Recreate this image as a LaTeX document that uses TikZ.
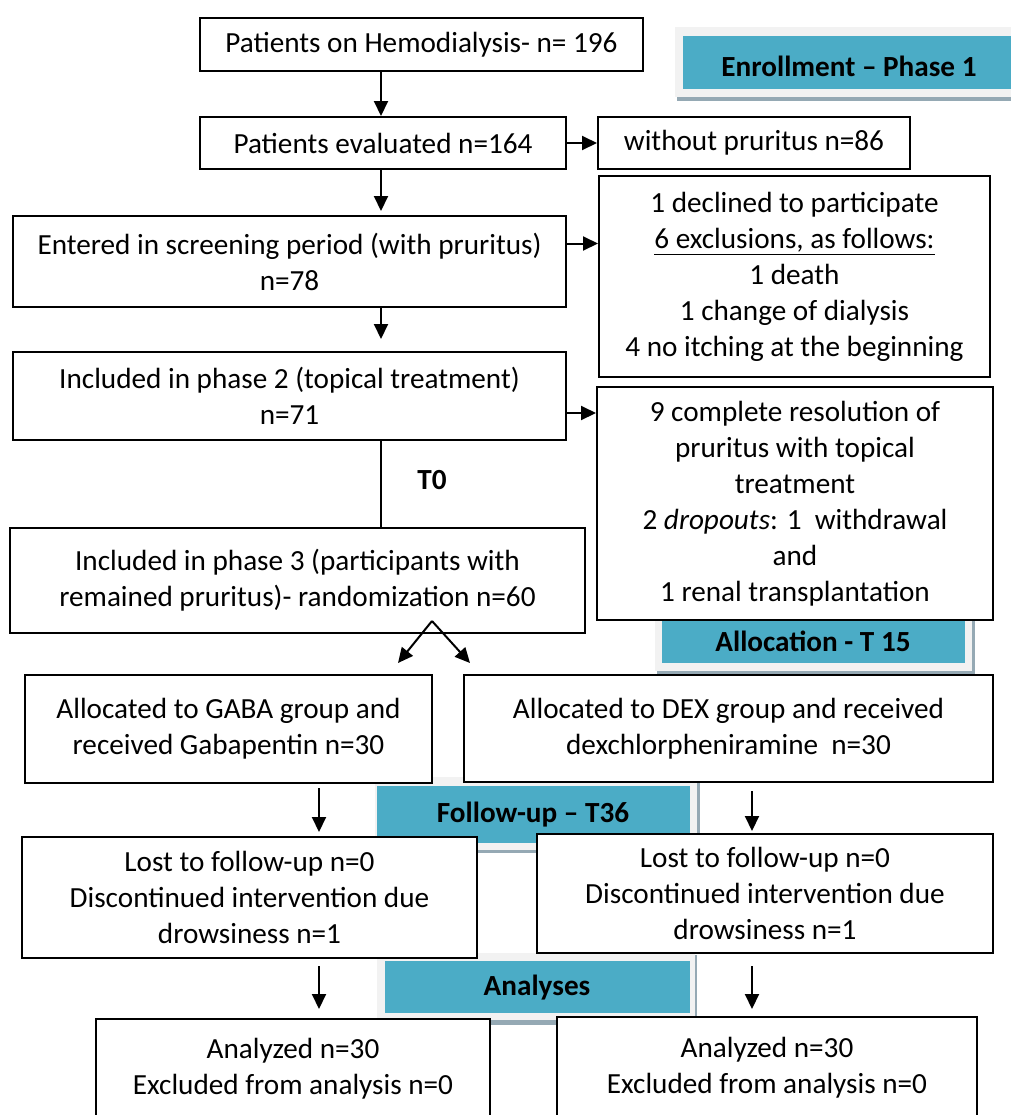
\documentclass[tikz,border=0pt]{standalone}
\usepackage{fontspec}
\setmainfont{Carlito}
\usetikzlibrary{arrows.meta}

\definecolor{bannerteal}{HTML}{4BACC6}
\definecolor{bannerframe}{HTML}{F2F2F2}
\definecolor{bannershadow}{HTML}{95A9B4}
\newcommand{\px}{0.5pt}
\newcommand{\diagfont}{\fontsize{14.6pt}{18pt}\selectfont}

\tikzset{
  flowbox/.style 2 args={draw, fill=white, line width=1pt, align=center,
    inner sep=0pt, minimum width=#1*\px, minimum height=#2*\px},
  flowarrow/.style={line width=1pt, -{Triangle[length=7.5pt,width=7pt]}},
  bannertext/.style={font={\diagfont\bfseries}, inner sep=0pt},
}

\begin{document}
\begin{tikzpicture}[x=0.5pt, y=-0.5pt, font=\diagfont]
    \useasboundingbox (0,0) rectangle (1011,1115);
    \clip (0,0) rectangle (1011,1115);

    % Bandeaux des phases
    \fill[bannershadow] (677,90) rectangle (1011,101);
    \fill[bannerframe] (675,27) rectangle (1011,97);
    \fill[bannerteal] (683,36) rectangle (1011,89);
    \node[bannertext] (enroll) at (849,66) {Enrollment – Phase 1};

    \fill[bannershadow] (657,614) rectangle (975,674);
    \fill[bannerframe] (655,612) rectangle (972,671);
    \fill[bannerteal] (662,620) rectangle (965,663);
    \node[bannertext] (alloc) at (813,641) {Allocation - T 15};

    \fill[bannershadow] (377,779) rectangle (700,853);
    \fill[bannerframe] (375,777) rectangle (697,850);
    \fill[bannerteal] (377,786) rectangle (690,843);
    \node[bannertext] (follow) at (533,815) {Follow-up – T36};

    \fill[bannershadow] (379,955) rectangle (697,1025);
    \fill[bannerframe] (377,953) rectangle (695,1020);
    \fill[bannerteal] (385,961) rectangle (690,1013);
    \node[bannertext] (analyses) at (537,988) {Analyses};

    % Boites
    \node[flowbox={443}{53}] (hemo) at (421.5,44.5) {Patients on Hemodialysis- n= 196};
    \node[flowbox={366}{52}] (evaluated) at (383,143) {Patients evaluated n=164};
    \node[flowbox={312}{52}] (nopruritus) at (754,143) {without pruritus n=86};
    \node[flowbox={553}{91}] (screening) at (289.5,261.5) {Entered in screening period (with pruritus)\\ n=78};
    \node[flowbox={391}{201}] (excluded) at (794.5,276.5) {1 declined to participate\\ \underline{6 exclusions, as follows:}\\ 1 death\\ 1 change of dialysis\\ 4 no itching at the beginning};
    \node[flowbox={553}{88}] (phasetwo) at (289.5,396) {Included in phase 2 (topical treatment)\\ n=71};
    \node[flowbox={396}{233}] (resolved) at (795,503.5) {9 complete resolution of\\ pruritus with topical\\ treatment\\ 2 \textit{dropouts}: 1\ \ withdrawal\\ and\\ 1 renal transplantation};
    \node[flowbox={575}{105}] (phasethree) at (297.5,580.5) {Included in phase 3 (participants with\\ remained pruritus)- randomization n=60};
    \node[flowbox={407}{108}] (gaba) at (228.5,729) {Allocated to GABA group and\\ received Gabapentin n=30};
    \node[flowbox={529}{107}] (dex) at (728.5,728.5) {Allocated to DEX group and received\\ dexchlorpheniramine\ \ n=30};
    \node[flowbox={455}{121}] (lostgaba) at (249.5,897.5) {Lost to follow-up n=0\\ Discontinued intervention due\\ drowsiness n=1};
    \node[flowbox={456}{119}] (lostdex) at (765,893.5) {Lost to follow-up n=0\\ Discontinued intervention due\\ drowsiness n=1};
    \node[flowbox={394}{99}] (analyzedgaba) at (293,1068.5) {Analyzed n=30\\ Excluded from analysis n=0};
    \node[flowbox={420}{101}] (analyzeddex) at (767,1067.5) {Analyzed n=30\\ Excluded from analysis n=0};

    \node[bannertext] (tzero) at (432,480) {T0};

    % Fleches
    \coordinate (spine) at (381,0);
    \coordinate (leftarm) at (319,0);
    \coordinate (rightarm) at (752,0);
    \coordinate (split) at (432,621);
    \coordinate (togaba) at (398,663);
    \coordinate (todex) at (470,663);

    \draw[flowarrow] (hemo.south -| spine) -- (evaluated.north -| spine);
    \draw[flowarrow, shorten >=2pt] (evaluated.south -| spine) -- (screening.north -| spine);
    \draw[flowarrow, shorten >=6pt] (screening.south -| spine) -- (phasetwo.north -| spine);
    \draw[line width=1pt] (phasetwo.south -| spine) -- (phasethree.north -| spine);

    \draw[flowarrow] (evaluated.east) -- (nopruritus.west);
    \draw[flowarrow] ([yshift=9pt]screening.east) coordinate (screenout) -- (screenout -| excluded.west);
    \draw[flowarrow] ([yshift=-8.5pt]phasetwo.east) coordinate (twoout) -- (twoout -| resolved.west);

    \draw[flowarrow] (split) -- (togaba);
    \draw[flowarrow] (split) -- (todex);

    \draw[flowarrow, shorten <=2pt, shorten >=2pt] (gaba.south -| leftarm) -- (lostgaba.north -| leftarm);
    \draw[flowarrow, shorten <=4pt, shorten >=1pt] (dex.south -| rightarm) -- (lostdex.north -| rightarm);
    \draw[flowarrow, shorten <=3.5pt, shorten >=4.5pt] (lostgaba.south -| leftarm) -- (analyzedgaba.north -| leftarm);
    \draw[flowarrow, shorten <=6pt, shorten >=3.5pt] (lostdex.south -| rightarm) -- (analyzeddex.north -| rightarm);
\end{tikzpicture}
\end{document}
